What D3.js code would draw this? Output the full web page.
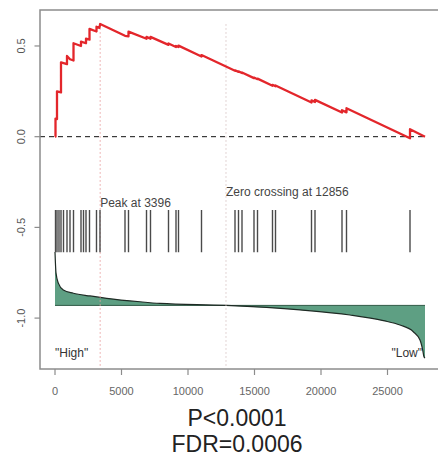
<!DOCTYPE html>
<html>
<head>
<meta charset="utf-8">
<script src="https://cdn.jsdelivr.net/npm/d3@7"></script>
<style>
  body { margin: 0; background: #fff; }
  svg { display: block; font-family: "Liberation Sans", Arial, sans-serif; }
</style>
</head>
<body>
<div class="container"></div>
<script>
// running enrichment score (rank, score)
const esRank = [0, 38, 38, 150, 150, 451, 451, 902, 902, 1128, 1391, 1391, 1955, 1955, 2331, 2331,
  2594, 2594, 3120, 3120, 3340, 3396, 5263, 5526, 5526, 6880, 6880, 7180, 7180, 8534, 8534,
  9098, 9098, 9286, 9286, 11015, 11015, 13534, 13534, 13797, 13797, 14060, 14060, 14962, 14962,
  15226, 15226, 16353, 16353, 16579, 16579, 19286, 19286, 19549, 19549, 21579, 21579, 21917, 21917,
  26692, 26692, 27820];
const esScore = [0, 0, 0.10, 0.097, 0.25, 0.244, 0.41, 0.40, 0.445, 0.427, 0.42, 0.515, 0.50, 0.524, 0.515, 0.54,
  0.535, 0.594, 0.58, 0.606, 0.60, 0.621, 0.556, 0.553, 0.579, 0.54, 0.55, 0.54, 0.55, 0.506, 0.514,
  0.494, 0.50, 0.494, 0.502, 0.442, 0.45, 0.363, 0.366, 0.357, 0.36, 0.351, 0.354, 0.323, 0.326,
  0.317, 0.32, 0.281, 0.286, 0.278, 0.282, 0.188, 0.20, 0.191, 0.203, 0.133, 0.146, 0.134, 0.157,
  -0.009, 0.041, 0];

// positions of the gene set members in the ranked list
const hitRanks = [38, 150, 300, 451, 639, 902, 1128, 1391, 1955, 2143, 2331, 2594, 3120, 3383,
  5263, 5526, 6880, 7180, 8534, 9098, 9286, 11015, 13534, 13797, 14060, 14962, 15226, 16353,
  16579, 19286, 19549, 21579, 21917, 26692];

// ranked list metric (drawn on the same axis, around its baseline)
const metricRank = [0, 75, 250, 625, 1378, 2632, 3890, 6390, 7895, 12856, 18421, 22180, 24687,
  25940, 26942, 27444, 27647, 27744, 27820];
const metricValue = [-0.636, -0.751, -0.807, -0.845, -0.863, -0.878, -0.891, -0.910, -0.919, -0.93,
  -0.955, -0.983, -1.014, -1.038, -1.075, -1.121, -1.176, -1.213, -1.22];
const metricBaseline = -0.93;

const peakRank = 3396;
const zeroCrossRank = 12856;
const xTicks = [0, 5000, 10000, 15000, 20000, 25000];
const yTicks = [-1.0, -0.5, 0.0, 0.5];
const pText = "P<0.0001";
const fdrText = "FDR=0.0006";

const width = 438;
const height = 457;

const svg = d3.select(".container")
  .append("svg")
  .attr("width", width)
  .attr("height", height);

const x = d3.scaleLinear().domain([0, 25000]).range([55, 387.5]);
const y = d3.scaleLinear().domain([-1.2806, 0.6983]).range([369, 10]);

// metric ribbon
const area = d3.area()
  .x((d, i) => x(metricRank[i]))
  .y0(y(metricBaseline))
  .y1((d) => y(d))
  .curve(d3.curveMonotoneX);

svg.append("path")
  .attr("d", area(metricValue))
  .attr("fill", "#5e9f83");

svg.append("line")
  .attr("x1", x(0))
  .attr("x2", x(metricRank[metricRank.length - 1]))
  .attr("y1", y(metricBaseline))
  .attr("y2", y(metricBaseline))
  .attr("stroke", "#2f5a46")
  .attr("stroke-width", 1);

svg.append("path")
  .attr("d", d3.line()
    .x((d, i) => x(metricRank[i]))
    .y((d) => y(d))
    .curve(d3.curveMonotoneX)(metricValue))
  .attr("fill", "none")
  .attr("stroke", "#1e2a24")
  .attr("stroke-width", 1.2);

// peak / zero crossing markers
[peakRank, zeroCrossRank].forEach((r, i) => {
  svg.append("line")
    .attr("x1", x(r))
    .attr("x2", x(r))
    .attr("y1", y(0.62))
    .attr("y2", 368)
    .attr("stroke", i === 0 ? "#e9a0a0" : "#d9c6c6")
    .attr("stroke-width", 1)
    .attr("stroke-dasharray", "1.5,2.5");
});

// hit bars
svg.selectAll("line.hit")
  .data(hitRanks)
  .enter()
  .append("line")
  .attr("class", "hit")
  .attr("x1", (d) => x(d))
  .attr("x2", (d) => x(d))
  .attr("y1", y(-0.404))
  .attr("y2", y(-0.637))
  .attr("stroke", "#4a4a4a")
  .attr("stroke-width", 1.4);

// zero line
svg.append("line")
  .attr("x1", 40)
  .attr("x2", x(27820))
  .attr("y1", y(0))
  .attr("y2", y(0))
  .attr("stroke", "#111")
  .attr("stroke-width", 1)
  .attr("stroke-dasharray", "5,4");

// running ES
svg.append("path")
  .attr("d", d3.line()
    .x((d, i) => x(esRank[i]))
    .y((d) => y(d))(esScore))
  .attr("fill", "none")
  .attr("stroke", "#e3262b")
  .attr("stroke-width", 2.3)
  .attr("stroke-linejoin", "round");

// frame
svg.append("rect")
  .attr("x", 40)
  .attr("y", 10)
  .attr("width", 402)
  .attr("height", 359)
  .attr("fill", "none")
  .attr("stroke", "#8c8c8c")
  .attr("stroke-width", 1.5);

// y axis
const yAxis = svg.append("g");
yAxis.selectAll("line")
  .data(yTicks)
  .enter()
  .append("line")
  .attr("x1", 34.5)
  .attr("x2", 40)
  .attr("y1", (d) => y(d))
  .attr("y2", (d) => y(d))
  .attr("stroke", "#8c8c8c")
  .attr("stroke-width", 1.2);
yAxis.selectAll("text")
  .data(yTicks)
  .enter()
  .append("text")
  .attr("transform", (d) => `translate(24.5, ${y(d)}) rotate(-90)`)
  .style("text-anchor", "middle")
  .style("font-size", "11px")
  .attr("fill", "#555")
  .text((d) => d3.format(".1f")(d).replace("−", "-"));

// x axis
const xAxis = svg.append("g");
xAxis.selectAll("line")
  .data(xTicks)
  .enter()
  .append("line")
  .attr("x1", (d) => x(d))
  .attr("x2", (d) => x(d))
  .attr("y1", 369)
  .attr("y2", 375)
  .attr("stroke", "#8c8c8c")
  .attr("stroke-width", 1.2);
xAxis.selectAll("text")
  .data(xTicks)
  .enter()
  .append("text")
  .attr("x", (d) => x(d))
  .attr("y", 395)
  .style("text-anchor", "middle")
  .style("font-size", "11px")
  .attr("fill", "#666")
  .text((d) => d);

// annotations
svg.append("text")
  .attr("x", x(peakRank))
  .attr("y", 206.5)
  .style("font-size", "12px")
  .attr("fill", "#444")
  .text(`Peak at ${peakRank}`);

svg.append("text")
  .attr("x", x(zeroCrossRank))
  .attr("y", 195.5)
  .style("font-size", "12px")
  .attr("fill", "#444")
  .text(`Zero crossing at ${zeroCrossRank}`);

svg.append("text")
  .attr("x", x(0))
  .attr("y", 357)
  .style("font-size", "12px")
  .attr("fill", "#333")
  .text("\"High\"");

svg.append("text")
  .attr("x", 422)
  .attr("y", 357)
  .style("text-anchor", "end")
  .style("font-size", "12px")
  .attr("fill", "#333")
  .text("\"Low\"");

svg.append("text")
  .attr("x", 237)
  .attr("y", 426)
  .style("text-anchor", "middle")
  .style("font-size", "23px")
  .attr("fill", "#222")
  .text(pText);

svg.append("text")
  .attr("x", 237)
  .attr("y", 452)
  .style("text-anchor", "middle")
  .style("font-size", "23px")
  .attr("fill", "#222")
  .text(fdrText);
</script>
</body>
</html>
